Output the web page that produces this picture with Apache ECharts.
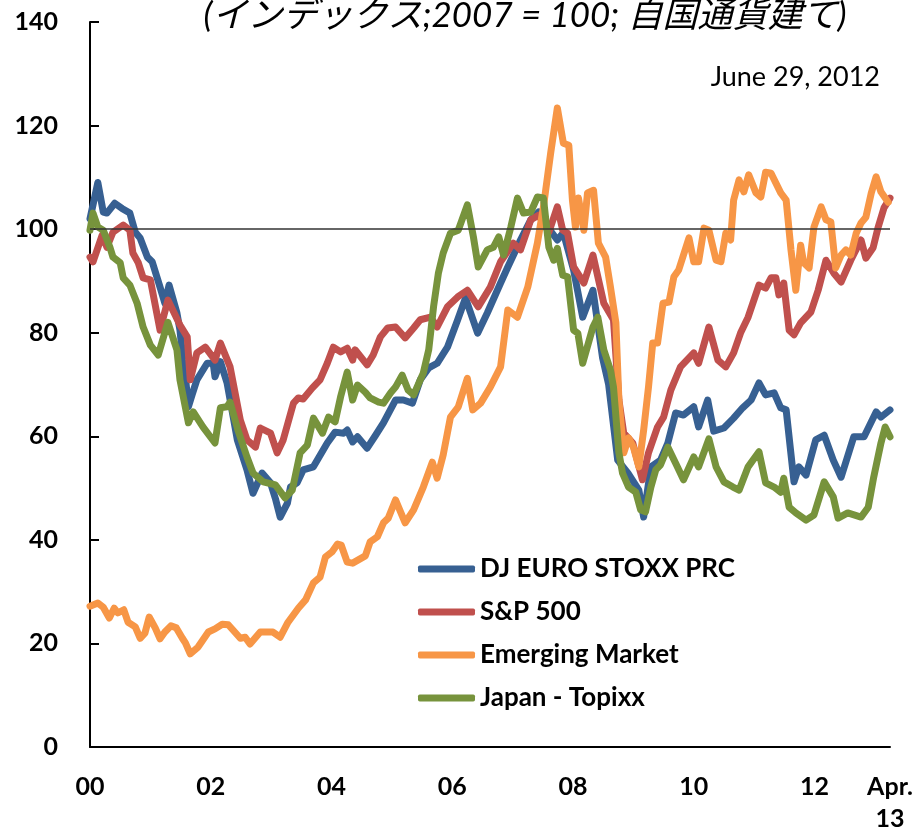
<!DOCTYPE html>
<html>
<head>
<meta charset="utf-8">
<script src="https://cdn.jsdelivr.net/npm/echarts@6/dist/echarts.min.js"></script>
<style>
  html, body { margin: 0; padding: 0; background: #fff; }
  #chart { width: 918px; height: 835px; }
</style>
</head>
<body>
<div id="chart"></div>
<script>
// index 2007 = 100, local currency; x = decimal year
const euroStoxx = [
  [2000.00, 102], [2000.13, 109], [2000.22, 103.3], [2000.28, 103.1], [2000.41, 105], [2000.53, 104],
  [2000.66, 103.1], [2000.75, 99.4], [2000.83, 98.3], [2000.95, 94.6], [2001.03, 93.7], [2001.16, 88.8],
  [2001.24, 85.7], [2001.31, 89.2], [2001.44, 83.8], [2001.49, 80.5], [2001.54, 74.7], [2001.58, 71.5],
  [2001.63, 65.7], [2001.69, 68], [2001.77, 70.9], [2001.94, 74.1], [2002.04, 74.1], [2002.07, 71.5],
  [2002.16, 74.4], [2002.27, 70.3], [2002.44, 59.3], [2002.60, 53.5], [2002.70, 49], [2002.85, 52.9],
  [2002.99, 51], [2003.07, 48], [2003.15, 44.4], [2003.27, 47.1], [2003.32, 50.2], [2003.43, 51],
  [2003.53, 53.5], [2003.70, 54.1], [2003.93, 58.7], [2004.06, 60.8], [2004.20, 60.6], [2004.26, 61.2],
  [2004.35, 58.9], [2004.43, 59.9], [2004.59, 57.7], [2004.73, 60.2], [2004.86, 62.6], [2005.06, 67],
  [2005.19, 67], [2005.34, 66.4], [2005.47, 70.9], [2005.61, 73.2], [2005.75, 74.1], [2005.92, 77.2],
  [2006.09, 82.5], [2006.22, 86.7], [2006.42, 79.9], [2006.58, 83.8], [2006.80, 89.6], [2006.92, 92.7],
  [2007.13, 97.9], [2007.30, 101.8], [2007.43, 103.3], [2007.58, 100.4], [2007.74, 97.9], [2007.84, 99.3],
  [2008.01, 92.1], [2008.16, 83], [2008.33, 88.2], [2008.49, 75.1], [2008.59, 70], [2008.74, 55.4],
  [2008.91, 52.9], [2009.09, 49.6], [2009.17, 44.4], [2009.29, 54.1], [2009.45, 55.4], [2009.57, 58.7],
  [2009.70, 64.5], [2009.83, 64.1], [2010.00, 65.7], [2010.08, 61.8], [2010.23, 67], [2010.33, 61],
  [2010.50, 61.6], [2010.66, 63.5], [2010.81, 65.5], [2010.95, 67], [2011.08, 70.3], [2011.19, 68],
  [2011.33, 68.4], [2011.44, 65.5], [2011.53, 65.1], [2011.66, 51.2], [2011.74, 54.1], [2011.86, 52.5],
  [2012.02, 59.3], [2012.16, 60.2], [2012.31, 55.4], [2012.44, 52.1], [2012.65, 59.9], [2012.82, 59.9],
  [2013.02, 64.7], [2013.10, 63.7], [2013.25, 65.1]
]

const sp500 = [
  [2000.00, 94.6], [2000.05, 93.7], [2000.20, 98.8], [2000.28, 96.5], [2000.38, 99.4], [2000.55, 100.8],
  [2000.66, 99.8], [2000.71, 95.4], [2000.80, 93.5], [2000.88, 90.6], [2001.00, 90.2], [2001.16, 80.5],
  [2001.29, 86.3], [2001.49, 81.5], [2001.61, 79.2], [2001.66, 70.9], [2001.77, 76.1], [2001.91, 77.2],
  [2002.07, 74.7], [2002.16, 78], [2002.32, 73.4], [2002.49, 63.1], [2002.60, 59.3], [2002.74, 57.9],
  [2002.82, 61.6], [2002.99, 60.6], [2003.10, 56.8], [2003.20, 59.3], [2003.37, 66.4], [2003.45, 67.4],
  [2003.53, 67.2], [2003.68, 69.3], [2003.81, 70.9], [2003.93, 74.1], [2004.03, 77.2], [2004.15, 76.3],
  [2004.26, 77], [2004.35, 74.7], [2004.39, 76.7], [2004.59, 73.8], [2004.69, 75.7], [2004.81, 79.2],
  [2004.93, 80.9], [2005.06, 81.1], [2005.22, 79], [2005.36, 80.9], [2005.47, 82.5], [2005.64, 83],
  [2005.75, 81.1], [2005.92, 85], [2006.09, 86.9], [2006.25, 88.2], [2006.43, 85], [2006.63, 88.8],
  [2006.80, 93.7], [2007.01, 97.3], [2007.13, 96], [2007.30, 101.8], [2007.43, 102.7], [2007.60, 99.4],
  [2007.74, 104.3], [2007.83, 99.8], [2007.91, 99.2], [2008.01, 92.7], [2008.18, 89.6], [2008.33, 95],
  [2008.51, 85.7], [2008.67, 82.5], [2008.76, 67], [2008.84, 60.6], [2008.99, 58.7], [2009.15, 51.6],
  [2009.25, 56.8], [2009.40, 61.8], [2009.50, 63.7], [2009.62, 68.9], [2009.78, 73.4], [2010.00, 76.1],
  [2010.08, 74.1], [2010.25, 81.1], [2010.40, 74.7], [2010.53, 73.4], [2010.66, 76.1], [2010.78, 80.1],
  [2010.90, 83], [2011.08, 89.2], [2011.19, 88.6], [2011.28, 90.6], [2011.36, 90.6], [2011.41, 87.3],
  [2011.49, 89.6], [2011.58, 80.5], [2011.66, 79.6], [2011.77, 81.9], [2011.94, 84], [2012.06, 88.2],
  [2012.19, 94], [2012.32, 91.5], [2012.44, 89.8], [2012.60, 94], [2012.77, 97.9], [2012.85, 94.4],
  [2012.97, 96.4], [2013.05, 100.2], [2013.15, 104.1], [2013.25, 106]
]

const emerging = [
  [2000.00, 27.2], [2000.13, 27.8], [2000.22, 27], [2000.32, 24.9], [2000.40, 26.8], [2000.46, 25.9],
  [2000.56, 26.5], [2000.63, 24.1], [2000.75, 23.2], [2000.83, 21], [2000.91, 22], [2000.98, 25.1],
  [2001.08, 23], [2001.16, 20.9], [2001.24, 22.2], [2001.34, 23.4], [2001.43, 23], [2001.53, 21],
  [2001.58, 20.1], [2001.66, 18], [2001.79, 19.3], [2001.96, 22.2], [2002.07, 22.8], [2002.19, 23.7],
  [2002.29, 23.6], [2002.49, 21], [2002.57, 21.2], [2002.65, 19.9], [2002.82, 22.2], [2003.03, 22.2],
  [2003.15, 21.2], [2003.28, 24.1], [2003.45, 26.8], [2003.57, 28.4], [2003.70, 31.7], [2003.81, 32.8],
  [2003.90, 36.7], [2004.01, 37.7], [2004.10, 39.2], [2004.16, 39], [2004.26, 35.7], [2004.35, 35.5],
  [2004.56, 36.9], [2004.64, 39.6], [2004.76, 40.6], [2004.86, 43.3], [2004.94, 44.2], [2005.06, 47.7],
  [2005.22, 43.3], [2005.36, 45.8], [2005.52, 50.2], [2005.67, 55], [2005.75, 51.9], [2005.85, 56.4],
  [2005.97, 63.7], [2006.10, 65.7], [2006.25, 71.2], [2006.34, 65.1], [2006.47, 66.4], [2006.63, 69.5],
  [2006.80, 73.4], [2006.92, 84.4], [2007.08, 83], [2007.25, 88.8], [2007.41, 97.3], [2007.51, 104.3],
  [2007.63, 114.7], [2007.74, 123.4], [2007.84, 116.6], [2007.93, 116.2], [2007.99, 105.6], [2008.04, 100.4],
  [2008.09, 106], [2008.18, 99.8], [2008.24, 107], [2008.34, 107.5], [2008.42, 97.3], [2008.54, 94.6],
  [2008.62, 88.8], [2008.71, 81.9], [2008.76, 67], [2008.84, 56.8], [2008.92, 59.7], [2009.00, 57.9],
  [2009.09, 54.1], [2009.17, 61.2], [2009.25, 69.5], [2009.32, 78], [2009.40, 78], [2009.49, 85.7],
  [2009.59, 85.9], [2009.67, 90.8], [2009.75, 92.1], [2009.92, 98.3], [2010.00, 93.7], [2010.08, 93.7],
  [2010.17, 100.2], [2010.25, 99.8], [2010.37, 94], [2010.45, 93.7], [2010.53, 99.2], [2010.61, 97.9],
  [2010.66, 105.6], [2010.75, 109.5], [2010.83, 107.2], [2010.91, 110.5], [2011.03, 107], [2011.11, 106.2],
  [2011.19, 111], [2011.28, 110.8], [2011.44, 107], [2011.53, 105.6], [2011.61, 96], [2011.69, 88.2],
  [2011.77, 96.9], [2011.82, 93.5], [2011.91, 92.5], [2011.99, 100.4], [2012.11, 104.3], [2012.19, 101.8],
  [2012.27, 101.4], [2012.35, 92.5], [2012.44, 95], [2012.52, 96], [2012.60, 95], [2012.69, 99.2],
  [2012.77, 101.2], [2012.85, 102.3], [2012.94, 107], [2013.02, 110.1], [2013.10, 107.2], [2013.22, 105.2]
]

const topix = [
  [2000.00, 99.8], [2000.05, 103.1], [2000.13, 100.4], [2000.22, 99.8], [2000.33, 96.5], [2000.38, 94.6],
  [2000.50, 93.5], [2000.55, 90.6], [2000.66, 89.2], [2000.78, 85.7], [2000.88, 81.1], [2001.00, 77.6],
  [2001.13, 75.7], [2001.29, 82], [2001.44, 76.7], [2001.49, 70.9], [2001.63, 62.6], [2001.71, 64.7],
  [2001.87, 61.8], [2002.07, 58.7], [2002.16, 65.5], [2002.27, 65.7], [2002.32, 66.6], [2002.45, 61.2],
  [2002.60, 56], [2002.70, 52.9], [2002.87, 51.2], [2003.07, 50.6], [2003.23, 48.1], [2003.35, 49.6],
  [2003.48, 56.8], [2003.60, 58.3], [2003.70, 63.5], [2003.85, 60.6], [2003.95, 63.7], [2004.06, 62.8],
  [2004.15, 67.6], [2004.26, 72.4], [2004.35, 67], [2004.43, 69.9], [2004.56, 68.5], [2004.64, 67.4],
  [2004.78, 66.6], [2004.86, 66.4], [2004.98, 68.4], [2005.06, 69.5], [2005.17, 71.8], [2005.27, 68.9],
  [2005.36, 68], [2005.52, 72.2], [2005.61, 76.7], [2005.69, 85], [2005.77, 91.5], [2005.85, 95.4],
  [2005.97, 99.2], [2006.10, 99.8], [2006.25, 104.7], [2006.35, 98.5], [2006.43, 92.7], [2006.58, 96],
  [2006.68, 96.5], [2006.77, 98.5], [2006.85, 95], [2006.97, 100.4], [2007.08, 106], [2007.18, 103.1],
  [2007.30, 103.3], [2007.41, 106.2], [2007.51, 106], [2007.60, 96.5], [2007.68, 94], [2007.74, 96.3],
  [2007.83, 91.1], [2007.91, 90.8], [2008.01, 80.5], [2008.08, 79.9], [2008.16, 74.1], [2008.33, 81.1],
  [2008.41, 83], [2008.51, 76.7], [2008.62, 72.8], [2008.67, 69.5], [2008.76, 56.8], [2008.82, 52.9],
  [2008.92, 50.2], [2009.04, 49.2], [2009.12, 45.8], [2009.20, 45.4], [2009.29, 50.2], [2009.37, 53.5],
  [2009.45, 54.5], [2009.57, 57.9], [2009.70, 54.8], [2009.83, 51.6], [2010.00, 56], [2010.08, 54.1],
  [2010.25, 59.5], [2010.37, 54.1], [2010.50, 51.2], [2010.65, 50.2], [2010.75, 49.6], [2010.90, 54.1],
  [2011.08, 57], [2011.19, 51], [2011.33, 50.2], [2011.44, 49.2], [2011.49, 51.9], [2011.58, 46.3],
  [2011.69, 45.2], [2011.86, 43.8], [2011.99, 44.8], [2012.16, 51.2], [2012.31, 48.3], [2012.39, 44.2],
  [2012.55, 45.2], [2012.77, 44.4], [2012.89, 46.3], [2012.98, 52.1], [2013.10, 58.7], [2013.17, 61.8],
  [2013.25, 59.9]
]

const seriesNames = ['DJ EURO STOXX PRC', 'S&P 500', 'Emerging Market', 'Japan - Topixx']
const seriesColors = ['#376092', '#c0504d', '#f79646', '#77933c']
const xTickValues = [2000, 2002, 2004, 2006, 2008, 2010, 2012, 2013.25]
const xTickLabels = ['00', '02', '04', '06', '08', '10', '12', 'Apr.\n13']

const font = 'Lato, "Noto Sans CJK JP", sans-serif'
const chart = echarts.init(document.getElementById('chart'))

const lines = [euroStoxx, sp500, emerging, topix].map((data, i) => ({
  name: seriesNames[i],
  type: 'line',
  data,
  symbol: 'none',
  color: seriesColors[i],
  lineStyle: { width: 7, join: 'round', cap: 'round' }
}))

// reference line at 100, drawn with the last series so it sits on top
lines[3].markLine = {
  silent: true,
  symbol: ['none', 'none'],
  label: { show: false },
  lineStyle: { color: '#333', width: 1.5, type: 'solid' },
  data: [{ yAxis: 100 }]
}

chart.setOption({
  animation: false,
  grid: { left: 90, right: 28, top: 22, bottom: 88 },
  legend: {
    orient: 'vertical',
    left: 413,
    top: 551,
    icon: 'roundRect',
    itemWidth: 57,
    itemHeight: 7,
    itemGap: 17,
    itemStyle: { borderWidth: 0 },
    textStyle: { fontFamily: font, fontWeight: 'bold', fontSize: 26, color: '#000' },
    data: seriesNames
  },
  xAxis: {
    type: 'value',
    min: 2000,
    max: 2013.25,
    splitLine: { show: false },
    axisTick: { show: false },
    axisLine: { lineStyle: { color: '#000', width: 2 } },
    axisLabel: {
      customValues: xTickValues,
      margin: 24,
      lineHeight: 32,
      fontFamily: font,
      fontWeight: 'bold',
      fontSize: 25,
      color: '#000',
      formatter: v => {
        const i = xTickValues.findIndex(t => Math.abs(t - v) < 0.01)
        return i >= 0 ? xTickLabels[i] : ''
      }
    }
  },
  yAxis: {
    type: 'value',
    min: 0,
    max: 140,
    interval: 20,
    splitLine: { show: false },
    axisLine: { show: true, lineStyle: { color: '#000', width: 2 } },
    axisTick: { show: true, inside: true, length: 9, lineStyle: { color: '#000', width: 2 } },
    axisLabel: { margin: 32, fontFamily: font, fontWeight: 'bold', fontSize: 25, color: '#000' }
  },
  graphic: [
    {
      type: 'text',
      x: 525,
      y: 16,
      style: {
        text: '(インデックス;2007 = 100; 自国通貨建て)',
        fontFamily: font,
        fontStyle: 'italic',
        fontSize: 35,
        fill: '#000',
        align: 'center',
        verticalAlign: 'middle'
      }
    },
    {
      type: 'text',
      x: 880,
      y: 77,
      style: {
        text: 'June 29, 2012',
        fontFamily: font,
        fontSize: 27,
        fill: '#000',
        align: 'right',
        verticalAlign: 'middle'
      }
    }
  ],
  series: lines
})
</script>
</body>
</html>
